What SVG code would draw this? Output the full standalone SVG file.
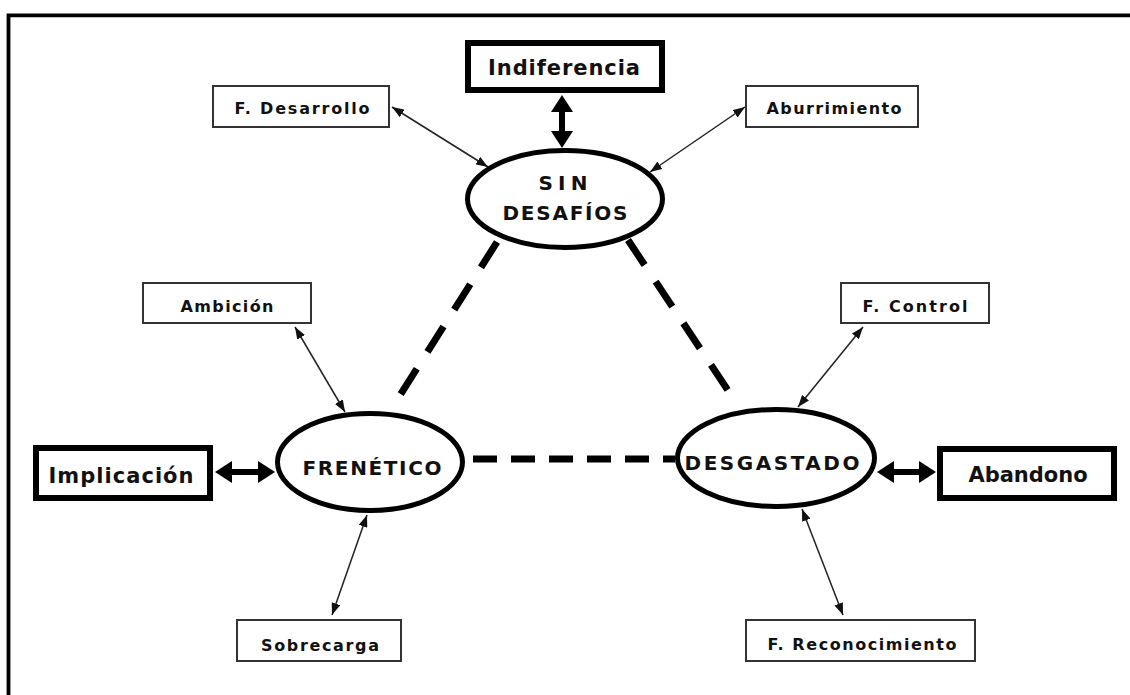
<svg xmlns="http://www.w3.org/2000/svg" width="1130" height="695" viewBox="0 0 1130 695">
  <style>
    .box { fill: #fff; stroke: #333; stroke-width: 2; }
    .strong { fill: #fff; stroke: #000; stroke-width: 6; }
    .state { fill: #fff; stroke: #000; stroke-width: 5; }
    .lbl { font-family: "DejaVu Sans", "Liberation Sans", sans-serif; font-weight: bold; font-size: 16px; fill: #111; text-anchor: middle; }
    .big { font-family: "DejaVu Sans", "Liberation Sans", sans-serif; font-weight: bold; font-size: 21px; fill: #111; text-anchor: middle; }
    .st { font-family: "DejaVu Sans", "Liberation Sans", sans-serif; font-weight: bold; font-size: 20px; fill: #111; text-anchor: middle; }
    .thin { stroke: #222; stroke-width: 1.5; fill: none; marker-start: url(#tip); marker-end: url(#tip); }
    .thick { stroke: #000; stroke-width: 6; fill: none; marker-start: url(#head); marker-end: url(#head); }
    .dash { stroke: #000; stroke-width: 7; fill: none; }
  </style>
  <defs>
    <marker id="tip" viewBox="0 0 12 9" refX="12" refY="4.5" markerWidth="12" markerHeight="9" markerUnits="userSpaceOnUse" orient="auto-start-reverse">
      <path d="M0,0 L12,4.5 L0,9 z" fill="#111"/>
    </marker>
    <marker id="head" viewBox="0 0 17 22" refX="0" refY="11" markerWidth="17" markerHeight="22" markerUnits="userSpaceOnUse" orient="auto-start-reverse">
      <path d="M0,0 L17,11 L0,22 z" fill="#000"/>
    </marker>
  </defs>

  <rect width="1130" height="695" fill="#fff"/>
  <!-- frame -->
  <path d="M8.5,695 V15.3 H1130" fill="none" stroke="#000" stroke-width="3.8"/>

  <g id="connectors">
    <!-- dashed links between the three states -->
    <line class="dash" x1="497" y1="242" x2="397" y2="400" stroke-dasharray="30 20"/>
    <line class="dash" x1="628" y1="240" x2="733" y2="398" stroke-dasharray="30 20"/>
    <line class="dash" x1="473" y1="459" x2="675" y2="459" stroke-dasharray="24 14"/>
    <!-- thin two-way arrows -->
    <line class="thin" x1="392" y1="107" x2="488" y2="167"/>
    <line class="thin" x1="745" y1="107" x2="650" y2="172"/>
    <line class="thin" x1="295" y1="327" x2="345" y2="412"/>
    <line class="thin" x1="863" y1="327" x2="798" y2="407"/>
    <line class="thin" x1="367" y1="515" x2="332" y2="615"/>
    <line class="thin" x1="802" y1="509" x2="843" y2="615"/>
    <!-- thick two-way arrows -->
    <line class="thick" x1="562" y1="112" x2="562" y2="131"/>
    <line class="thick" x1="232" y1="472" x2="258" y2="472"/>
    <line class="thick" x1="894" y1="472" x2="919" y2="472"/>
  </g>

  <g id="indiferencia">
    <rect class="strong" x="468" y="43" width="194" height="47"/>
    <text class="big" x="564" y="75" textLength="152" lengthAdjust="spacing">Indiferencia</text>
  </g>
  <g id="f-desarrollo">
    <rect class="box" x="213" y="86" width="176" height="41"/>
    <text class="lbl" x="302" y="114" textLength="135" lengthAdjust="spacing">F.  Desarrollo</text>
  </g>
  <g id="aburrimiento">
    <rect class="box" x="746" y="86" width="172" height="41"/>
    <text class="lbl" x="834" y="114" textLength="135" lengthAdjust="spacing">Aburrimiento</text>
  </g>
  <g id="sin-desafios">
    <ellipse class="state" cx="565" cy="199" rx="97.5" ry="48.5"/>
    <text class="st" x="563" y="190" textLength="49" lengthAdjust="spacing">SIN</text>
    <text class="st" x="565" y="220" textLength="125" lengthAdjust="spacing">DESAFÍOS</text>
  </g>
  <g id="ambicion">
    <rect class="box" x="143" y="283" width="168" height="40"/>
    <text class="lbl" x="227" y="312" textLength="93" lengthAdjust="spacing">Ambición</text>
  </g>
  <g id="f-control">
    <rect class="box" x="841" y="283" width="148" height="40"/>
    <text class="lbl" x="915" y="312" textLength="105" lengthAdjust="spacing">F.  Control</text>
  </g>
  <g id="implicacion">
    <rect class="strong" x="36" y="448" width="174" height="50"/>
    <text class="big" x="121" y="483" textLength="145" lengthAdjust="spacing">Implicación</text>
  </g>
  <g id="frenetico">
    <ellipse class="state" cx="370" cy="462" rx="92.5" ry="48.5"/>
    <text class="st" x="372" y="475" textLength="139" lengthAdjust="spacing">FRENÉTICO</text>
  </g>
  <g id="desgastado">
    <ellipse class="state" cx="776" cy="458" rx="98.5" ry="48.5"/>
    <text class="st" x="772" y="470" textLength="175" lengthAdjust="spacing">DESGASTADO</text>
  </g>
  <g id="abandono">
    <rect class="strong" x="940" y="449" width="174" height="49"/>
    <text class="big" x="1028" y="482">Abandono</text>
  </g>
  <g id="sobrecarga">
    <rect class="box" x="237" y="620" width="164" height="41"/>
    <text class="lbl" x="320" y="651" textLength="118" lengthAdjust="spacing">Sobrecarga</text>
  </g>
  <g id="f-reconocimiento">
    <rect class="box" x="746" y="620" width="229" height="41"/>
    <text class="lbl" x="862" y="650" textLength="189" lengthAdjust="spacing">F.  Reconocimiento</text>
  </g>
</svg>
